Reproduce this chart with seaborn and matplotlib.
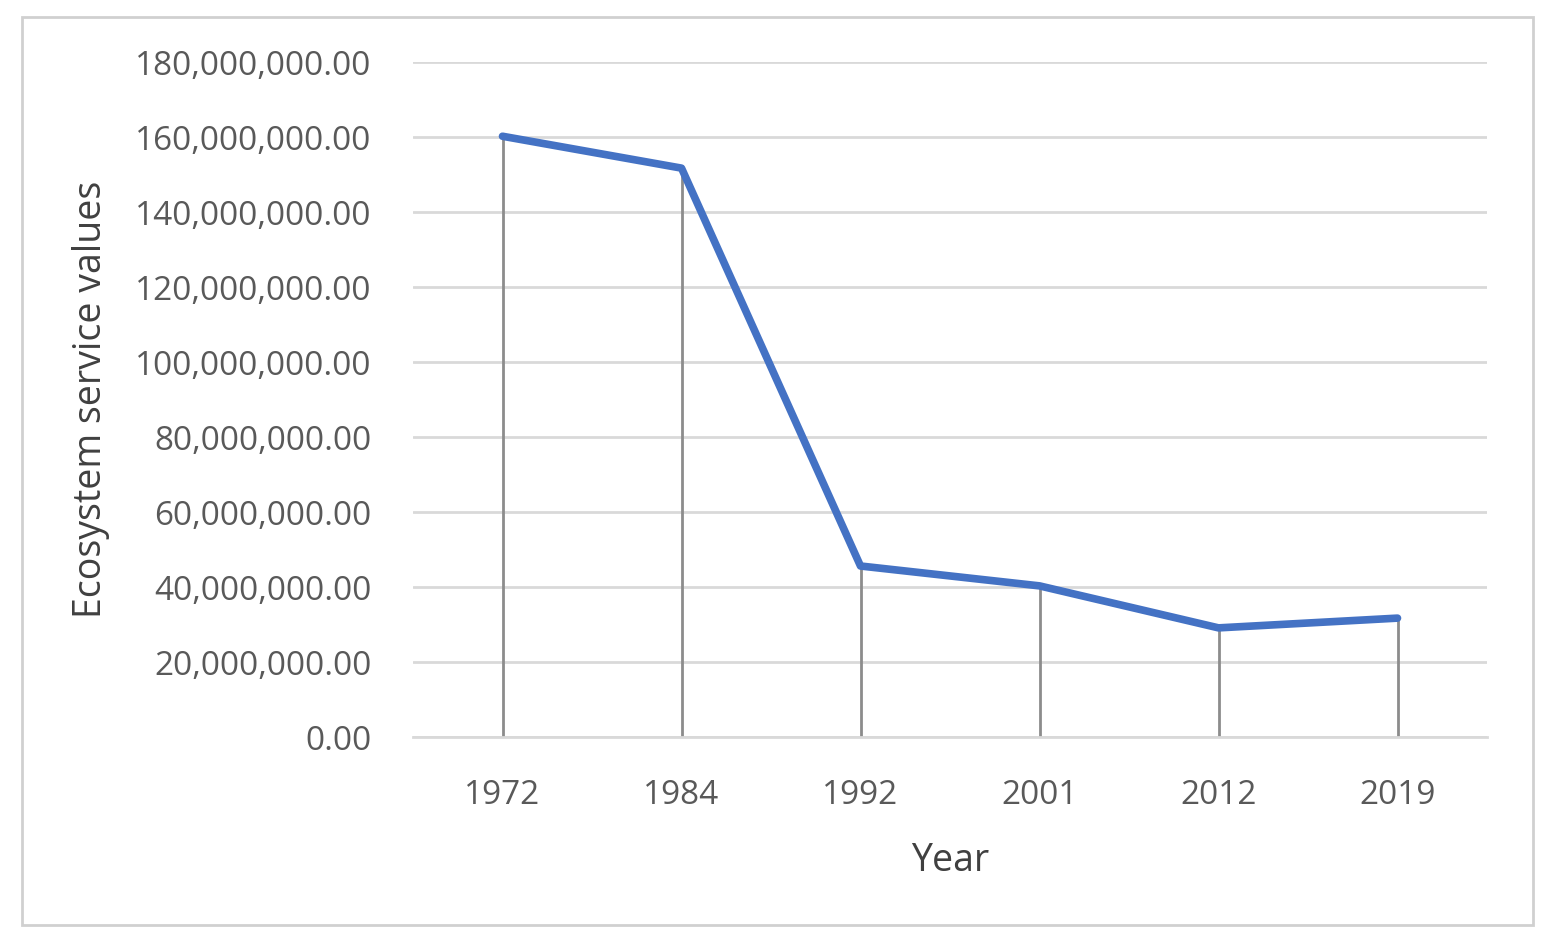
import matplotlib
matplotlib.use("Agg")
import matplotlib.pyplot as plt
import seaborn as sns
import pandas as pd
from matplotlib.ticker import FuncFormatter
from matplotlib.patches import Rectangle

years = ["1972", "1984", "1992", "2001", "2012", "2019"]
values = [160.2e6, 151.7e6, 45.6e6, 40.3e6, 29.1e6, 31.7e6]

sns.set_theme(style="white")
plt.rcParams['font.family'] = ['Open Sans', 'DejaVu Sans']

fig = plt.figure(figsize=(15.56, 9.46), dpi=100)
ax = fig.add_axes([413/1556, 1-737/946, (1487-413)/1556, (737-62)/946])
fig.patches.append(Rectangle((22/1556, 1-925/946), (1533-22)/1556, (925-17)/946,
                             transform=fig.transFigure, fill=False, edgecolor="#d0d0d0", lw=2))

df = pd.DataFrame({"Year": years, "ESV": values})
x = list(range(len(years)))
ax.vlines(x, 0, values, color="#8c8c8c", lw=2, zorder=1)
sns.lineplot(x=x, y=df["ESV"], ax=ax, color="#4472C4", lw=5.5, zorder=3)

ax.set_xlim(-0.5, 5.5)
ax.set_ylim(0, 180e6)
ax.set_yticks([i * 20e6 for i in range(10)])
ax.yaxis.set_major_formatter(FuncFormatter(lambda v, p: f"{v:,.2f}"))
ax.set_xticks(x)
ax.set_xticklabels(years)
ax.grid(axis="y", color="#d9d9d9", lw=2)
ax.set_axisbelow(True)
for s in ["top", "right", "left"]:
    ax.spines[s].set_visible(False)
ax.spines["bottom"].set_color("#d9d9d9")
ax.spines["bottom"].set_linewidth(2)
ax.tick_params(axis="y", length=0, labelsize=24, colors="#595959", pad=30)
ax.tick_params(axis="x", length=0, labelsize=24, colors="#595959", pad=30)
ax.set_xlabel("Year", fontsize=27, color="#404040", labelpad=22)
ax.set_ylabel("Ecosystem service values", fontsize=27, color="#404040", labelpad=18)

fig.savefig("out.png", dpi=100)
